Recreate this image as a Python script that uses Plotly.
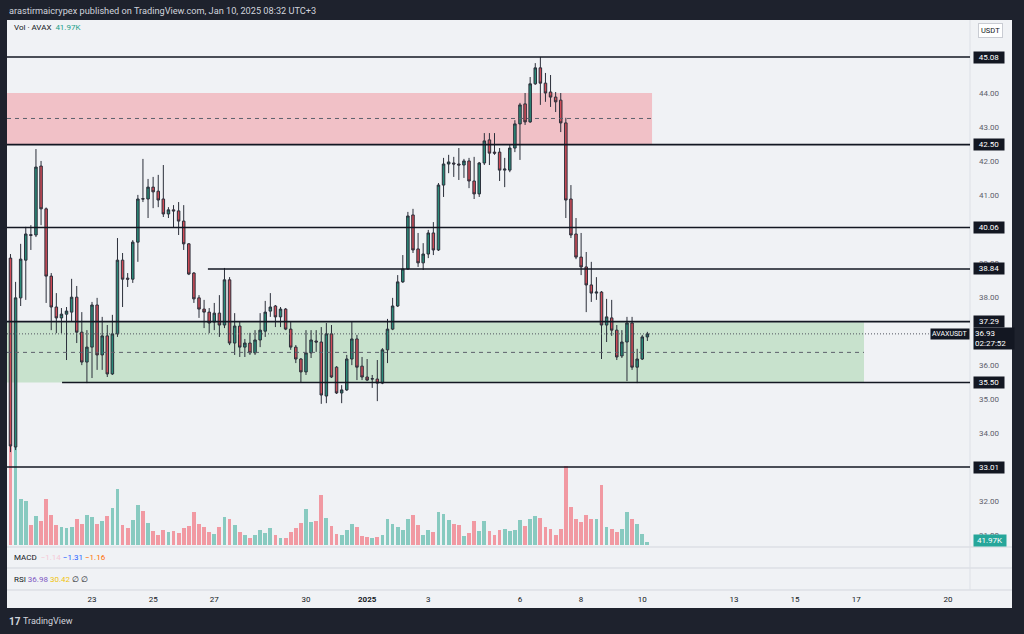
import plotly.graph_objects as go
import pandas as pd

# ---------------- data (AVAX/USDT, 4h candles) ----------------
opens = [39.16, 33.60, 37.99, 39.10, 39.85, 39.84, 41.87, 40.61, 38.63, 37.72,
         37.40, 37.51, 37.57, 38.01, 36.98, 36.10, 36.54, 37.78, 36.31, 36.87,
         35.75, 36.93, 39.10, 38.57, 38.54, 39.63, 40.91, 40.90, 41.25, 41.13,
         40.90, 40.46, 40.58, 40.55, 40.25, 39.58, 38.72, 37.99, 37.66, 37.57,
         37.28, 37.54, 37.19, 38.52, 36.66, 37.16, 36.54, 36.66, 36.37, 36.75,
         37.01, 37.60, 37.75, 37.43, 37.66, 37.07, 36.54, 36.19, 35.81, 36.37,
         36.72, 36.69, 35.10, 36.93, 35.95, 35.19, 35.28, 36.19, 36.78, 35.98,
         35.66, 35.60, 35.60, 35.48, 36.46, 37.07, 37.75, 38.46, 38.84, 40.43,
         39.43, 39.02, 39.28, 39.90, 39.40, 41.31, 41.93, 41.96, 41.93, 41.90,
         42.02, 41.43, 41.05, 41.96, 42.64, 42.28, 42.28, 41.75, 41.75, 42.40,
         43.11, 43.70, 43.17, 44.29, 44.76, 44.31, 44.05, 43.90, 43.81, 43.14,
         40.90, 39.87, 39.19, 38.90, 38.37, 38.13, 38.16, 37.19, 37.40, 37.04,
         36.28, 36.69, 37.25, 35.95, 36.19, 36.84]
highs = [39.28, 38.46, 39.58, 40.08, 40.13, 42.37, 42.02, 40.65, 38.72, 38.13,
         37.69, 37.72, 38.55, 38.34, 37.57, 37.04, 37.87, 37.99, 37.43, 37.19,
         37.49, 39.75, 39.31, 38.72, 39.69, 41.02, 42.08, 41.49, 41.55, 41.61,
         41.90, 40.66, 40.72, 40.81, 40.72, 39.60, 38.75, 38.07, 37.93, 37.69,
         37.84, 38.07, 38.87, 38.60, 37.54, 37.28, 36.78, 36.96, 37.04, 37.54,
         37.90, 38.13, 37.78, 37.72, 37.69, 37.28, 36.60, 36.22, 37.04, 37.04,
         37.04, 37.13, 37.25, 37.19, 35.98, 35.42, 36.31, 37.28, 36.90, 36.25,
         36.19, 35.72, 36.16, 36.51, 37.37, 37.99, 38.66, 39.25, 40.52, 40.61,
         39.90, 39.60, 39.99, 40.22, 41.37, 42.11, 42.20, 42.14, 42.40, 42.08,
         42.11, 42.14, 41.99, 42.84, 42.84, 42.84, 42.40, 42.11, 42.49, 43.22,
         43.73, 44.02, 44.49, 44.90, 45.08, 44.61, 44.55, 44.05, 44.02, 43.29,
         41.31, 40.34, 39.90, 39.34, 39.05, 38.60, 38.19, 37.96, 37.93, 37.19,
         37.04, 37.43, 37.43, 36.49, 36.90, 36.99]
lows = [33.45, 33.51, 37.75, 37.93, 39.40, 39.78, 40.13, 37.84, 37.04, 36.95,
        36.95, 36.16, 37.28, 36.66, 36.01, 35.48, 35.63, 35.87, 35.87, 35.66,
        35.72, 36.84, 37.72, 38.31, 38.43, 39.05, 40.81, 40.34, 40.63, 40.66,
        40.37, 40.34, 40.05, 39.84, 39.40, 38.66, 37.84, 37.40, 37.10, 36.95,
        37.04, 36.84, 37.10, 36.60, 36.31, 36.25, 36.25, 36.31, 36.31, 36.54,
        36.84, 37.43, 37.13, 37.13, 37.04, 36.46, 36.07, 35.51, 35.72, 36.22,
        36.40, 34.87, 34.89, 35.63, 35.16, 34.89, 35.25, 36.01, 35.57, 35.57,
        35.54, 35.34, 34.95, 35.45, 36.07, 37.04, 37.72, 38.43, 38.81, 39.31,
        38.90, 38.81, 39.16, 39.25, 39.37, 40.96, 41.66, 41.55, 41.46, 41.52,
        41.22, 40.90, 40.96, 41.90, 41.90, 42.20, 41.43, 41.25, 41.69, 42.28,
        42.05, 43.08, 43.14, 44.26, 43.67, 43.76, 43.61, 43.46, 42.87, 40.34,
        39.75, 39.13, 38.66, 37.57, 37.87, 37.93, 36.19, 36.69, 36.87, 36.16,
        36.22, 35.54, 35.87, 35.48, 36.16, 36.72]
closes = [33.63, 37.99, 39.13, 39.87, 39.83, 41.84, 40.61, 38.63, 37.72, 37.40,
          37.51, 37.60, 38.01, 36.98, 36.10, 36.54, 37.78, 36.31, 36.87, 35.75,
          36.93, 39.10, 38.54, 38.54, 39.63, 40.90, 40.90, 41.25, 41.11, 40.87,
          40.46, 40.58, 40.55, 40.25, 39.58, 38.69, 37.96, 37.66, 37.57, 37.25,
          37.54, 37.19, 38.52, 36.66, 37.16, 36.54, 36.66, 36.37, 36.75, 37.04,
          37.57, 37.72, 37.43, 37.66, 37.07, 36.54, 36.19, 35.81, 36.37, 36.75,
          36.69, 35.13, 36.93, 35.66, 35.19, 35.28, 36.19, 36.78, 35.95, 35.66,
          35.57, 35.61, 35.48, 36.46, 37.07, 37.75, 38.46, 38.84, 40.40, 39.40,
          39.02, 39.28, 39.90, 39.40, 41.31, 41.93, 41.99, 41.93, 41.90, 42.02,
          41.43, 41.05, 41.96, 42.61, 42.25, 42.25, 41.75, 41.78, 42.40, 43.11,
          43.67, 43.17, 44.29, 44.76, 44.31, 44.02, 43.90, 43.76, 43.14, 40.87,
          39.84, 39.19, 38.90, 38.37, 38.13, 38.16, 37.19, 37.43, 37.04, 36.25,
          36.69, 37.25, 35.95, 36.19, 36.84, 36.93]
volumes_k = [1700, 1250, 575, 559, 252, 365, 307, 575, 374, 256,
             223, 214, 227, 328, 265, 378, 353, 265, 302, 365,
             466, 701, 252, 214, 319, 504, 433, 273, 176, 130,
             189, 160, 176, 147, 210, 235, 416, 265, 227, 168,
             139, 227, 357, 323, 252, 164, 126, 84, 126, 185,
             151, 210, 126, 84, 84, 160, 218, 273, 458, 290,
             302, 630, 336, 235, 134, 126, 189, 265, 223, 113,
             97, 84, 105, 130, 328, 265, 231, 189, 328, 374,
             248, 126, 189, 160, 416, 391, 315, 265, 256, 113,
             151, 302, 176, 302, 172, 130, 185, 202, 176, 185,
             315, 239, 328, 370, 340, 223, 202, 130, 202, 995,
             475, 323, 290, 374, 328, 328, 756, 223, 202, 164,
             197, 420, 332, 265, 134, 41.97]
candle_times = pd.date_range("2024-12-20 11:00", periods=len(opens), freq="4h")

# key horizontal levels (price, start date or None = full width)
level_prices = [45.08, 42.50, 40.06, 38.84, 37.29, 35.50, 33.01]
level_starts = [None, None, None, "2024-12-26 22:00", None, "2024-12-22 03:30", None]

# zones
supply_zone = (42.52, 44.02)
supply_zone_end = "2025-01-10 10:40"
demand_zone = (35.50, 37.27)
demand_zone_end = "2025-01-17 09:05"
last_price = 36.93
countdown = "02:27:52"
last_volume_label = "41.97K"

# price-scale ticks that are not hidden behind the level labels
price_ticks = [31, 32, 34, 35, 36, 38, 39, 41, 42, 43, 44]

tick_dates = ["2024-12-23 03:00", "2024-12-25 03:00", "2024-12-27 03:00",
              "2024-12-30 03:00", "2025-01-01 03:00", "2025-01-03 03:00",
              "2025-01-06 03:00", "2025-01-08 03:00", "2025-01-10 03:00",
              "2025-01-13 03:00", "2025-01-15 03:00", "2025-01-17 03:00",
              "2025-01-20 03:00"]
tick_labels = ["23", "25", "27", "30", "<b>2025</b>", "3", "6", "8", "10",
               "13", "15", "17", "20"]

macd_values = ["\u22121.14", "\u22121.31", "\u22121.16"]
rsi_values = ["36.98", "30.42", "\u2205", "\u2205"]

# ---------------- layout helpers ----------------
W, H = 1024, 634
def px(xp):
    return xp / W
def py(yp):
    return 1 - yp / H

X_START, X_END = "2024-12-20 08:16", "2025-01-20 20:18"
Y_LO, Y_HI = 30.715, 46.169
VOL_MAX = 6615

FONT = "Roboto, Arial, sans-serif"
BG_DARK = "#1e222d"
BG_CHART = "#f0f2f5"
UP = "#2a8a78"
DOWN = "#d04c58"
EDGE = "#2b2f3a"

fig = go.Figure()

vol_colors = ["rgba(8,153,129,0.45)" if c >= o else "rgba(242,54,69,0.47)"
              for o, c in zip(opens, closes)]
fig.add_trace(go.Bar(x=candle_times, y=volumes_k, marker=dict(color=vol_colors, line=dict(width=0)),
                     width=4 * 3600 * 1000 * 0.74, xaxis="x", yaxis="y", hoverinfo="skip"))

fig.add_trace(go.Candlestick(
    x=candle_times, open=opens, high=highs, low=lows, close=closes,
    xaxis="x", yaxis="y2",
    increasing=dict(fillcolor=UP, line=dict(color=EDGE, width=1)),
    decreasing=dict(fillcolor=DOWN, line=dict(color=EDGE, width=1)),
    whiskerwidth=0, hoverinfo="skip"))

shapes = []
# chart panel background
shapes.append(dict(type="rect", xref="paper", yref="paper", x0=px(7), x1=px(1012), y0=py(608), y1=py(20),
                   fillcolor=BG_CHART, line=dict(width=0), layer="below"))
# pane separators
for yy in (547, 568, 590):
    shapes.append(dict(type="line", xref="paper", yref="paper", x0=px(7), x1=px(1012), y0=py(yy), y1=py(yy),
                       line=dict(color="#d3d6dd", width=1), layer="below"))
shapes.append(dict(type="line", xref="paper", yref="paper", x0=px(970), x1=px(970), y0=py(590), y1=py(20),
                   line=dict(color="#dde0e6", width=1), layer="below"))
# zones
shapes.append(dict(type="rect", xref="x", yref="y2", x0=X_START, x1=supply_zone_end,
                   y0=supply_zone[0], y1=supply_zone[1], fillcolor="rgba(242,54,69,0.26)",
                   line=dict(width=0), layer="below"))
shapes.append(dict(type="line", xref="x", yref="y2", x0=X_START, x1=supply_zone_end,
                   y0=sum(supply_zone) / 2, y1=sum(supply_zone) / 2,
                   line=dict(color="#5d606b", width=1, dash="4px,4px"), layer="above"))
shapes.append(dict(type="rect", xref="x", yref="y2", x0=X_START, x1=demand_zone_end,
                   y0=demand_zone[0], y1=demand_zone[1], fillcolor="rgba(76,175,80,0.24)",
                   line=dict(width=0), layer="below"))
shapes.append(dict(type="line", xref="x", yref="y2", x0=X_START, x1=demand_zone_end,
                   y0=sum(demand_zone) / 2, y1=sum(demand_zone) / 2,
                   line=dict(color="#5d606b", width=1, dash="4px,4px"), layer="above"))
# current price dotted line
shapes.append(dict(type="line", xref="x", yref="y2", x0=X_START, x1="2025-01-19 12:00",
                   y0=last_price, y1=last_price, line=dict(color="#50535e", width=1, dash="1px,2px"),
                   layer="above"))
# levels
for lv, st in zip(level_prices, level_starts):
    shapes.append(dict(type="line", xref="x", yref="y2", x0=st or X_START, x1=X_END, y0=lv, y1=lv,
                       line=dict(color="#131722", width=1.6), layer="above"))

ann = []
# top header
ann.append(dict(x=px(7), y=py(10), xref="paper", yref="paper", xanchor="left", yanchor="middle",
                text="arastirmaicrypex published on TradingView.com, Jan 10, 2025 08:32 UTC+3",
                showarrow=False, font=dict(family=FONT, size=9.2, color="#d1d4dc")))
ann.append(dict(x=px(12), y=py(28), xref="paper", yref="paper", xanchor="left", yanchor="middle",
                text="Vol \u00b7 AVAX  <span style='color:#22a08a'>" + last_volume_label + "</span>",
                showarrow=False, font=dict(family=FONT, size=8, color="#131722")))
ann.append(dict(x=px(990), y=py(30), xref="paper", yref="paper", xanchor="center", yanchor="middle",
                text="USDT", showarrow=False, font=dict(family=FONT, size=7.5, color="#131722"),
                bgcolor="#ffffff", bordercolor="#c9ccd3", borderwidth=1, borderpad=2))
# level price labels
for lv in level_prices:
    ann.append(dict(x=px(973), y=lv, xref="paper", yref="y2", xanchor="left", yanchor="middle",
                    text=f"{lv:.2f}", showarrow=False, bgcolor="#131722", width=28, borderpad=1,
                    font=dict(family=FONT, size=8, color="#ffffff")))
ann.append(dict(x=px(970), y=last_price, xref="paper", yref="y2", xanchor="right", yanchor="middle",
                text="AVAXUSDT", showarrow=False, bgcolor="#131722", borderpad=1,
                font=dict(family=FONT, size=7, color="#ffffff")))
ann.append(dict(x=px(973), y=last_price, xref="paper", yref="y2", xanchor="left", yanchor="top",
                yshift=7, text=f"{last_price:.2f}<br>{countdown}", showarrow=False, align="left",
                bgcolor="#131722", borderpad=1, width=38,
                font=dict(family=FONT, size=8, color="#ffffff")))
ann.append(dict(x=px(973), y=py(540), xref="paper", yref="paper", xanchor="left", yanchor="middle",
                text=last_volume_label, showarrow=False, bgcolor="#26a69a", width=30, borderpad=1,
                font=dict(family=FONT, size=8, color="#ffffff")))
# MACD / RSI legends
ann.append(dict(x=px(12), y=py(557), xref="paper", yref="paper", xanchor="left", yanchor="middle",
                text=("MACD  <span style='color:#f6c9d6'>" + macd_values[0] + "</span> "
                      "<span style='color:#2962ff'>" + macd_values[1] + "</span> "
                      "<span style='color:#ff6d00'>" + macd_values[2] + "</span>"),
                showarrow=False, font=dict(family=FONT, size=8, color="#131722")))
ann.append(dict(x=px(12), y=py(579), xref="paper", yref="paper", xanchor="left", yanchor="middle",
                text=("RSI <span style='color:#7e57c2'>" + rsi_values[0] + "</span> "
                      "<span style='color:#f1c40f'>" + rsi_values[1] + "</span> "
                      + rsi_values[2] + " " + rsi_values[3]),
                showarrow=False, font=dict(family=FONT, size=8, color="#131722")))
# TradingView footer
ann.append(dict(x=px(7), y=py(621), xref="paper", yref="paper", xanchor="left", yanchor="middle",
                text="<b>17</b>", showarrow=False, font=dict(family=FONT, size=10, color="#d1d4dc")))
ann.append(dict(x=px(21), y=py(621), xref="paper", yref="paper", xanchor="left", yanchor="middle",
                text="TradingView", showarrow=False, font=dict(family=FONT, size=9, color="#d1d4dc")))

fig.update_layout(
    width=W, height=H, autosize=False,
    margin=dict(l=0, r=0, t=0, b=0),
    paper_bgcolor=BG_DARK, plot_bgcolor="rgba(0,0,0,0)",
    showlegend=False, font=dict(family=FONT),
    shapes=shapes, annotations=ann, bargap=0,
    xaxis=dict(domain=[px(7), px(970)], range=[X_START, X_END], type="date",
               anchor="free", position=py(590), rangeslider=dict(visible=False),
               showgrid=False, zeroline=False, showline=False, ticks="",
               tickvals=tick_dates, ticktext=tick_labels,
               tickfont=dict(family=FONT, size=8, color="#131722"), ticklabelstandoff=3),
    yaxis=dict(domain=[py(545), py(20)], range=[0, VOL_MAX], visible=False, anchor="x",
               fixedrange=True),
    yaxis2=dict(overlaying="y", anchor="x", side="right", range=[Y_LO, Y_HI],
                tickvals=price_ticks, tickformat=".2f", showgrid=False, zeroline=False,
                showline=False, ticks="",
                tickfont=dict(family=FONT, size=8, color="#5d606b"), ticklabelstandoff=8),
)

fig.write_html("out.html")
